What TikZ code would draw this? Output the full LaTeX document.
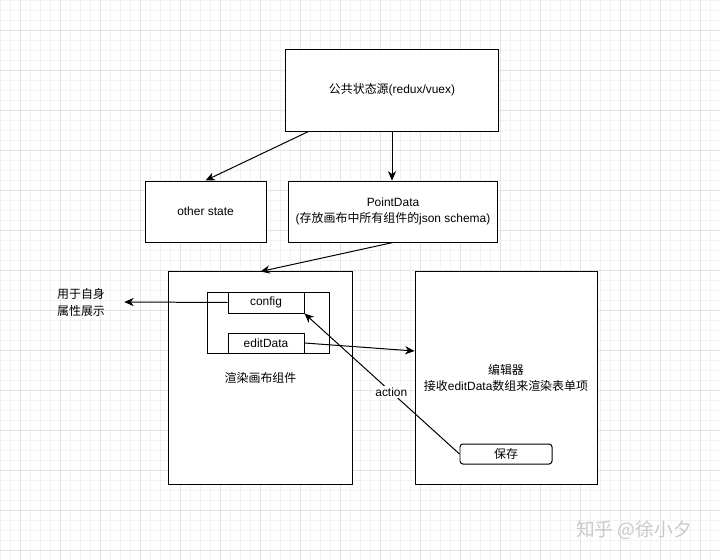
\documentclass[tikz,border=0pt]{standalone}
\usepackage{fontspec}
\setmainfont{Liberation Sans}
\newfontfamily\cjk{Noto Sans CJK SC}
\usetikzlibrary{arrows.meta,positioning}
\definecolor{GridMinor}{HTML}{F2F2F2}
\definecolor{GridMajor}{HTML}{E3E3E3}
\definecolor{MarkGray}{HTML}{CACACA}
\tikzset{
  block/.style={rectangle,draw=black,fill=white,line width=0.85pt,inner sep=0pt,align=center,font=\fontsize{10.2}{13}\selectfont},
  button/.style={block,rounded corners=2.5pt},
  note/.style={align=center,inner sep=1pt,font=\fontsize{10.2}{14.5}\selectfont},
  arrow/.style={-{Stealth[length=8pt,width=7pt,inset=2.5pt]},line width=0.85pt},
  gridminor/.style={GridMinor,line width=0.4pt},
  gridmajor/.style={GridMajor,line width=0.6pt},
}

\begin{document}
\begin{tikzpicture}[x=0.03cm,y=-0.03cm]
  \useasboundingbox (0,0) rectangle (720,560);
  \fill[white] (0,0) rectangle (720,560);
  % background grid
  \foreach \gx in {0,10,...,720} \draw[gridminor] (\gx,0) -- (\gx,560);
  \foreach \gy in {0,10,...,560} \draw[gridminor] (0,\gy) -- (720,\gy);
  \foreach \gx in {20,60,...,700} \draw[gridmajor] (\gx,0) -- (\gx,560);
  \foreach \gy in {30,70,...,550} \draw[gridmajor] (0,\gy) -- (720,\gy);

  \node[block, minimum width=6.36cm, minimum height=2.46cm] (source) at (392,90) {{\cjk 公共状态源}(redux/vuex)};
  \node[block, minimum width=3.63cm, minimum height=1.83cm] (other) at (205.5,211.5) {other state};
  \node[block, minimum width=6.24cm, minimum height=1.83cm] (point) at (393,211.5) {PointData\\({\cjk 存放画布中所有组件的}json schema)};
  \node[block, minimum width=5.49cm, minimum height=6.36cm] (canvas) at (260.5,378) {\cjk 渲染画布组件};
  \node[block, minimum width=5.46cm, minimum height=6.36cm] (editor) at (506,378) {{\cjk 编辑器}\\{\cjk 接收}editData{\cjk 数组来渲染表单项}};
  \node[block, minimum width=3.66cm, minimum height=1.83cm] (holder) at (268,322.5) {};
  \node[block, minimum width=2.28cm, minimum height=0.63cm] (config) at (266,302.5) {config};
  \node[block, minimum width=2.28cm, minimum height=0.6cm] (data) at (266,343) {editData};
  \node[button, minimum width=2.76cm, minimum height=0.6cm] (save) at (506,454) {\cjk 保存};
  \node[note] (self) at (81,302) {\cjk 用于自身\\\cjk 属性展示};
  \node[MarkGray, font=\fontsize{16}{18}\selectfont] (mark) at (634,530) {\cjk 知乎 @徐小夕};

  \draw[arrow] ([xshift=0.69cm]source.south west) -- (other.north);
  \draw[arrow] (source.south) -- (source.south |- point.north);
  \draw[arrow] (point.south) -- (canvas.north);
  \draw[arrow] (config.west) -- ([xshift=0.54cm]self.east);
  \draw[arrow] (data.east) -- ([yshift=0.81cm]editor.west);
  \draw[arrow] (save.west) -- node[pos=0.44, fill=white, inner sep=1.5pt, font=\fontsize{10.2}{13}\selectfont] {action} (config.south east);
\end{tikzpicture}
\end{document}
